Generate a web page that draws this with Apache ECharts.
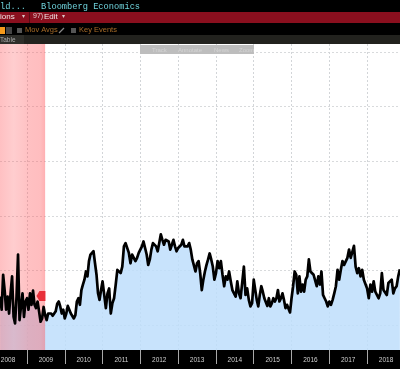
<!DOCTYPE html>
<html>
<head>
<meta charset="utf-8">
<style>html,body{margin:0;padding:0;background:#000}#chart{width:400px;height:369px}</style>
<script src="https://cdn.jsdelivr.net/npm/echarts@6/dist/echarts.min.js"></script>
</head>
<body>
<div id="chart"></div>
<script>
var values2008 = [1.52,1.28,1.92,1.64,1.28,1.52,1.21,1.58,1.89,1.15,1.03,1.52,2.29,1.09,1.34,1.58,1.15,1.43];
var values2009 = [1.49,1.28,1.58,1.37,1.63,1.37,1.31,1.43,1.25,1.06,1.12,1.33,1.18,1.09,1.21,1.18,1.21,1.17,1.14,1.25,1.39,1.43,1.34,1.21,1.28];
var values2010 = [1.12,1.21,1.35,1.28,1.21,1.21,1.12,1.18,1.43,1.49,1.37,1.64,1.74,1.83,1.98,1.89,2.17,2.29,2.32,2.35,2.13,1.92,1.58,1.46,1.64];
var values2011 = [1.80,1.80,1.31,1.58,1.67,1.21,1.40,1.49,1.74,2.01,2.04,1.95,2.07,2.44,2.50,2.53,2.32,2.13,2.29,2.32,2.17,2.23,2.32];
var values2012 = [2.32,2.44,2.53,2.41,2.29,2.10,2.20,2.38,2.50,2.47,2.44,2.35,2.50,2.66,2.56,2.47,2.56,2.53,2.53,2.38,2.47,2.56,2.44,2.35];
var values2013 = [2.41,2.38,2.47,2.56,2.44,2.47,2.44,2.50,2.38,2.20,2.17,1.98,2.13,2.17,1.95,1.64,1.83,1.98,2.10,2.20,2.31,2.20,2.07,1.83];
var values2014 = [1.95,2.17,2.04,2.17,1.92,1.71,1.89,1.83,1.98,1.80,1.64,1.67,1.52,1.80,1.58,1.49,1.46,2.07,1.55,1.67,1.46,1.34,1.40];
var values2015 = [1.83,1.64,1.46,1.34,1.55,1.71,1.61,1.49,1.49,1.35,1.49,1.34,1.40,1.49,1.43,1.49,1.64,1.43,1.49,1.58,1.46,1.31,1.37,1.34,1.23];
var values2016 = [1.49,1.71,1.98,1.92,1.58,1.89,1.61,1.74,1.61,1.83,1.89,2.20,1.98,2.01,1.92,1.95,1.71,1.89,1.74,1.98,1.55,1.49,1.43,1.34];
var values2017 = [1.43,1.37,1.46,1.58,1.71,2.01,1.83,2.01,2.17,2.10,2.07,2.23,2.38,2.23,2.26,2.45,2.07,1.95,2.04,1.89,2.01,1.83,1.80];
var values2018 = [1.67,1.49,1.74,1.61,1.80,1.61,1.58,1.49,1.58,1.95,1.64,1.61,1.55,1.77,1.77,1.83,1.58,1.67,1.71,1.89,2.02];

// each block runs evenly over its own stretch of the time axis
var blocks = [
	[2008.29, 2009, values2008],
	[2009, 2010, values2009],
	[2010, 2011, values2010],
	[2011, 2012, values2011],
	[2012, 2013, values2012],
	[2013, 2014, values2013],
	[2014, 2015, values2014],
	[2015, 2016, values2015],
	[2016, 2017, values2016],
	[2017, 2018, values2017],
	[2018, 2018.91, values2018]
];
var yearTicks = [2009,2010,2011,2012,2013,2014,2015,2016,2017,2018];
var yearLabels = [2008.5,2009.5,2010.5,2011.5,2012.5,2013.5,2014.5,2015.5,2016.5,2017.5,2018.5];
var yTicks = [1,2,3,4,5,6];

var points = [];
blocks.forEach(function(b){
	b[2].forEach(function(v,i){
		points.push([b[0] + (b[1]-b[0])*i/b[2].length, v]);
	});
});

var myChart = echarts.init(document.getElementById('chart'));
var option = {
	animation : false,
	backgroundColor : '#000',
	grid : {
		left : 0, right : 0, top : 44, bottom : 19,
		outerBoundsMode : 'none',
		show : true, backgroundColor : '#fff', borderWidth : 0
	},
	xAxis : {
		type : 'value',
		min : 2008.286, max : 2018.87,
		axisLine : { show : false },
		axisTick : { show : true, length : 14, customValues : yearTicks, lineStyle : { color : '#a8a8a8', width : 1 } },
		axisLabel : {
			customValues : yearLabels,
			color : '#d0d0d0', fontSize : 6.5, fontFamily : 'Liberation Sans', margin : 7,
			hideOverlap : false,
			formatter : function(v){ return String(Math.floor(v)); }
		},
		splitLine : { show : true, lineStyle : { color : '#d2d5d8', type : [2,2], width : 1 } }
	},
	yAxis : {
		type : 'value',
		min : 0.542, max : 6.146,
		axisLine : { show : false },
		axisTick : { show : false, customValues : yTicks },
		axisLabel : { show : false },
		splitLine : { show : true, lineStyle : { color : '#d8dadc', type : [2,2], width : 1 } }
	},
	series : [ {
		name : 'Area',
		type : 'line',
		data : points,
		showSymbol : false,
		z : 2,
		lineStyle : { width : 0 },
		areaStyle : { color : 'rgba(190,222,252,0.85)', opacity : 1 },
		markArea : {
			silent : true,
			z : 3,
			itemStyle : {
				color : new echarts.graphic.LinearGradient(0,0,1,0,[
					{offset:0, color:'rgba(255,90,95,0.38)'},
					{offset:0.3, color:'rgba(255,90,95,0.30)'},
					{offset:0.57, color:'rgba(255,90,95,0.36)'},
					{offset:0.62, color:'rgba(255,90,95,0.38)'},
					{offset:0.9, color:'rgba(255,90,95,0.40)'},
					{offset:1, color:'rgba(255,90,95,0.48)'}
				])
			},
			data : [ [ { xAxis : 2008.286, yAxis : 0.542 }, { xAxis : 2009.48, yAxis : 6.146 } ] ]
		}
	}, {
		name : 'Spread',
		type : 'line',
		data : points,
		showSymbol : false,
		z : 4,
		lineStyle : { color : '#000', width : 2.7, join : 'round' },
		markPoint : {
			silent : true,
			symbol : 'path://M0 5 L4 0 L12 0 L12 10 L4 10 Z',
			symbolSize : [9,10],
			itemStyle : { color : '#e8303a' },
			label : { show : false },
			data : [ { coord : [2009.37, 1.53] } ]
		}
	} ],
	graphic : [
		{ type:'rect', z:100, shape:{x:0,y:12,width:400,height:11}, style:{fill:'#8a0f1e'} },
		{ type:'rect', z:100, shape:{x:0,y:35,width:400,height:9}, style:{fill:'#22221e'} },
		{ type:'rect', z:101, shape:{x:0,y:35,width:24,height:9}, style:{fill:'#2e2e2a'} },
		{ type:'rect', z:101, shape:{x:29,y:12,width:1,height:11}, style:{fill:'#5a0a14'} },
		{ type:'text', z:101, x:0, y:2, style:{text:'ld...', fill:'#6fd3dc', font:'8.7px "Liberation Mono"'} },
		{ type:'text', z:101, x:41, y:2, style:{text:'Bloomberg Economics', fill:'#6fd3dc', font:'8.7px "Liberation Mono"'} },
		{ type:'text', z:101, x:0, y:13, style:{text:'ions', fill:'#f0e6e6', font:'8px "Liberation Sans"'} },
		{ type:'text', z:101, x:22, y:13, style:{text:'\u25BE', fill:'#d8c8c8', font:'6px "Liberation Sans"'} },
		{ type:'text', z:101, x:33, y:13, style:{text:'97)', fill:'#e0c8c8', font:'7px "Liberation Sans"'} },
		{ type:'text', z:101, x:44, y:13, style:{text:'Edit', fill:'#f0e6e6', font:'8px "Liberation Sans"'} },
		{ type:'text', z:101, x:62, y:13, style:{text:'\u25BE', fill:'#d8c8c8', font:'6px "Liberation Sans"'} },
		{ type:'rect', z:101, shape:{x:0,y:27,width:5,height:7}, style:{fill:'#f59a1c'} },
		{ type:'rect', z:101, shape:{x:6,y:27,width:6,height:7}, style:{fill:'#444'} },
		{ type:'rect', z:101, shape:{x:17,y:28,width:5,height:5}, style:{fill:'#555'} },
		{ type:'text', z:101, x:25, y:26, style:{text:'Mov Avgs', fill:'#a86c28', font:'7.5px "Liberation Sans"'} },
		{ type:'line', z:101, shape:{x1:59,y1:33,x2:64,y2:28}, style:{stroke:'#888',lineWidth:1.2} },
		{ type:'rect', z:101, shape:{x:71,y:28,width:5,height:5}, style:{fill:'#555'} },
		{ type:'text', z:101, x:79, y:26, style:{text:'Key Events', fill:'#a86c28', font:'7.5px "Liberation Sans"'} },
		{ type:'text', z:102, x:0, y:37, style:{text:'Table', fill:'#aaa', font:'6.5px "Liberation Sans"'} },
		{ type:'rect', z:101, shape:{x:140,y:45,width:114,height:9}, style:{fill:'#bdbdbd'} },
		{ type:'text', z:102, x:152, y:47, style:{text:'Track', fill:'#d4d4d4', font:'6px "Liberation Sans"'} },
		{ type:'text', z:102, x:178, y:47, style:{text:'Annotate', fill:'#d4d4d4', font:'6px "Liberation Sans"'} },
		{ type:'text', z:102, x:214, y:47, style:{text:'News', fill:'#d4d4d4', font:'6px "Liberation Sans"'} },
		{ type:'text', z:102, x:239, y:47, style:{text:'Zoom', fill:'#d4d4d4', font:'6px "Liberation Sans"'} }
	]
};
myChart.setOption(option);
</script>
</body>
</html>
